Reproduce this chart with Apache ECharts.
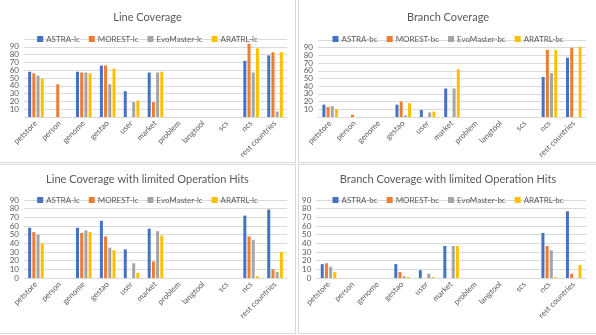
<!DOCTYPE html>
<html>
<head>
<meta charset="utf-8">
<script src="https://cdn.jsdelivr.net/npm/echarts@6/dist/echarts.min.js"></script>
<style>
body { margin: 0; background: #fff; width: 596px; height: 335px; overflow: hidden; position: relative; }
.panel { position: absolute; box-sizing: border-box; border: 1px solid #d9d9d9; }
.chart { position: absolute; left: 0; top: 0; right: 0; bottom: 0; }
</style>
</head>
<body>
<div class="panel" style="left:-1px;top:-1px;width:297px;height:164px"><div id="lc" class="chart"></div></div>
<div class="panel" style="left:298px;top:-1px;width:300px;height:164px"><div id="bc" class="chart"></div></div>
<div class="panel" style="left:-1px;top:164px;width:297px;height:170px"><div id="lcLimited" class="chart"></div></div>
<div class="panel" style="left:298px;top:164px;width:300px;height:170px"><div id="bcLimited" class="chart"></div></div>
<script>
const categories = ['petstore', 'person', 'genome', 'gestao', 'user', 'market', 'problem', 'langtool', 'scs', 'ncs', 'rest countries']
const tools = ['ASTRA', 'MOREST', 'EvoMaster', 'ARATRL']
const colors = ['#4472C4', '#ED7D31', '#A5A5A5', '#FFC000']

// line coverage
const astraLc = [58, 0, 58, 66, 33, 57, 0, 0, 0, 72, 79]
const morestLc = [56, 42, 57, 66, 0, 19, 0, 0, 0, 94, 83]
const evoLc = [53, 0, 57, 42, 19, 57, 0, 0, 0, 57, 7]
const aratrlLc = [49, 0, 56, 62, 21, 58, 0, 0, 0, 88, 83]

// branch coverage
const astraBc = [16, 0, 0, 16, 9, 37, 0, 0, 0, 52, 77]
const morestBc = [13, 3, 0, 20, 0, 0, 0, 0, 0, 87, 90]
const evoBc = [14, 0, 0, 2, 6, 37, 0, 0, 0, 57, 0]
const aratrlBc = [10, 0, 0, 18, 7, 62, 0, 0, 0, 87, 91]

// line coverage with limited operation hits
const astraLcLim = [58, 0, 58, 66, 33, 57, 0, 0, 0, 72, 79]
const morestLcLim = [53, 0, 52, 48, 0, 19, 0, 0, 0, 48, 10]
const evoLcLim = [50, 0, 55, 35, 17, 54, 0, 0, 0, 44, 7]
const aratrlLcLim = [40, 0, 53, 32, 6, 49, 0, 0, 0, 2, 30]

// branch coverage with limited operation hits
const astraBcLim = [16, 0, 0, 16, 9, 37, 0, 0, 0, 52, 77]
const morestBcLim = [17, 0, 0, 7, 0, 0, 0, 0, 0, 37, 5]
const evoBcLim = [13, 0, 0, 2, 5, 37, 0, 0, 0, 32, 0]
const aratrlBcLim = [7, 0, 0, 1, 1, 37, 0, 0, 0, 1, 15]

const font = 'Lato, "Open Sans", sans-serif'
const textColor = '#595959'

function makeChart(id, title, suffix, data, yMax, grid) {
  const chart = echarts.init(document.getElementById(id))
  const series = data.map((values, i) => ({
    name: tools[i] + suffix,
    type: 'bar',
    data: values,
    barWidth: 3,
    barGap: '40%',
    itemStyle: { color: colors[i] }
  }))
  chart.setOption({
    animation: false,
    textStyle: { fontFamily: font },
    title: {
      text: title,
      left: 'center',
      top: grid.titleTop,
      textStyle: { fontFamily: font, fontSize: 11, fontWeight: 'normal', color: textColor }
    },
    legend: {
      top: grid.legendTop,
      left: 'center',
      itemWidth: 6,
      itemHeight: 6,
      itemGap: 9,
      icon: 'rect',
      textStyle: { fontFamily: font, fontSize: 8, color: textColor, padding: [0, 0, 0, -2] },
      data: series.map(s => s.name)
    },
    grid: { left: grid.left, right: grid.right, top: grid.top, bottom: grid.bottom },
    xAxis: {
      type: 'category',
      data: categories,
      axisLine: { lineStyle: { color: '#d9d9d9' } },
      axisTick: { show: false },
      axisLabel: { rotate: 45, interval: 0, fontSize: 8, color: textColor, margin: 5, fontFamily: font }
    },
    yAxis: {
      type: 'value',
      min: 0,
      max: yMax,
      interval: 10,
      axisLine: { show: false },
      axisTick: { show: false },
      axisLabel: {
        // small base size keeps every tick label; the rich style draws them at 8px
        fontSize: 5, lineHeight: 5, color: textColor, margin: 5, fontFamily: font,
        formatter: '{v|{value}}',
        rich: { v: { fontSize: 8, lineHeight: 6, color: textColor, fontFamily: font } }
      },
      splitLine: { lineStyle: { color: '#d9d9d9' } }
    },
    series: series
  })
  return chart
}

makeChart('lc', 'Line Coverage', '-lc', [astraLc, morestLc, evoLc, aratrlLc], 100,
  { titleTop: 7, legendTop: 30, left: 24, right: 8, top: 39, bottom: 45 })
makeChart('bc', 'Branch Coverage', '-bc', [astraBc, morestBc, evoBc, aratrlBc], 100,
  { titleTop: 7, legendTop: 30, left: 19, right: 11, top: 40, bottom: 45 })
makeChart('lcLimited', 'Line Coverage with limited Operation Hits', '-lc', [astraLcLim, morestLcLim, evoLcLim, aratrlLcLim], 90,
  { titleTop: 4, legendTop: 26, left: 24, right: 8, top: 35, bottom: 55 })
makeChart('bcLimited', 'Branch Coverage with limited Operation Hits', '-bc', [astraBcLim, morestBcLim, evoBcLim, aratrlBcLim], 90,
  { titleTop: 4, legendTop: 26, left: 15, right: 11, top: 35, bottom: 55 })
</script>
</body>
</html>
